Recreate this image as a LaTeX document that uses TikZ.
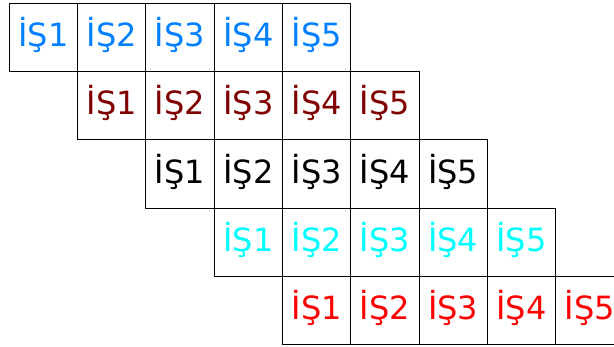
\documentclass[tikz,border=0pt]{standalone}
\usepackage{fontspec}
\setmainfont{DejaVu Sans}
\definecolor{cblue}{RGB}{0,128,255}
\definecolor{cdark}{RGB}{128,0,0}
\definecolor{cblack}{RGB}{0,0,0}
\definecolor{ccyan}{RGB}{0,255,255}
\definecolor{cred}{RGB}{255,0,0}
\begin{document}
\begin{tikzpicture}[x=1pt,y=-1pt,
  cell/.style={draw=black, line width=1pt, rectangle, inner sep=0pt,
    minimum width=68.3pt, minimum height=68.3pt,
    text height=25pt, text depth=6.5pt,
    font=\fontsize{32}{36}\selectfont}]
\useasboundingbox (0,0) rectangle (614,347);
\clip (0,0) rectangle (614,347);
\foreach \r/\col in {0/cblue,1/cdark,2/cblack,3/ccyan,4/cred}{
  \foreach \c in {1,...,5}{
    \node[cell, text=\col] (r\r c\c) at ({9.3+34.15+68.3*(\r+\c-1)},{3.3+34.15+68.3*\r}) {İŞ\c};
  }
}
\end{tikzpicture}
\end{document}
